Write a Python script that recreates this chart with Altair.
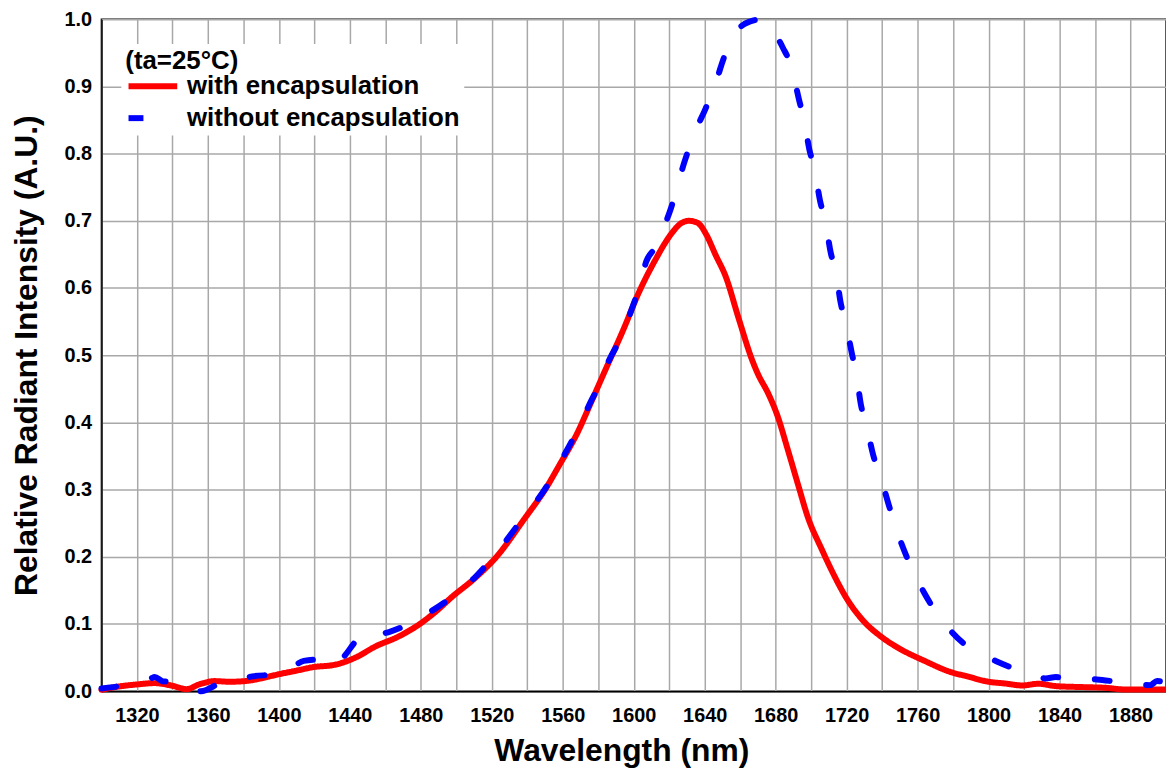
import altair as alt
import pandas as pd

# ---- data ----
wl_with = [1300, 1310, 1320, 1330, 1340, 1348, 1355, 1364, 1372, 1381, 1390, 1398,
           1409, 1420, 1431, 1444, 1454, 1468, 1480, 1490, 1497, 1510, 1523, 1538,
           1551, 1558, 1568, 1576, 1584, 1594, 1603, 1612, 1621, 1626, 1631, 1636,
           1641, 1646, 1652, 1659, 1667, 1670, 1676, 1681, 1687, 1693, 1698, 1706,
           1713, 1720, 1730, 1739, 1750, 1764, 1778, 1788, 1800, 1809, 1819, 1828,
           1838, 1854, 1866, 1877, 1900]
val_with = [0.002, 0.007, 0.010, 0.012, 0.008, 0.003, 0.010, 0.015, 0.014, 0.015, 0.019, 0.024,
            0.030, 0.036, 0.039, 0.051, 0.066, 0.082, 0.101, 0.122, 0.139, 0.167, 0.201, 0.255,
            0.304, 0.336, 0.383, 0.430, 0.478, 0.537, 0.594, 0.641, 0.680, 0.695, 0.700, 0.697,
            0.679, 0.650, 0.616, 0.556, 0.491, 0.472, 0.442, 0.410, 0.358, 0.304, 0.260, 0.211,
            0.172, 0.138, 0.103, 0.082, 0.063, 0.045, 0.029, 0.022, 0.014, 0.0115, 0.0085, 0.011,
            0.0075, 0.006, 0.005, 0.0025, 0.0025]

wl_without = [1300, 1311, 1328, 1330, 1335, 1340, 1348, 1356, 1368, 1376, 1385, 1398,
              1406, 1414, 1422, 1426, 1434, 1442, 1446, 1453, 1462, 1470, 1482, 1497,
              1510, 1523, 1538, 1551, 1558, 1568, 1576, 1581, 1585, 1594, 1598, 1604,
              1607, 1612, 1616, 1620.5, 1629, 1635, 1640.5, 1647, 1651, 1656, 1660, 1666,
              1672, 1678, 1684, 1689, 1693, 1696, 1699, 1702, 1705, 1708, 1711, 1714,
              1716.5, 1719.5, 1723, 1725.5, 1728, 1731, 1735, 1739, 1744, 1747.5, 1754, 1764,
              1776, 1786, 1795, 1804, 1816, 1825, 1832, 1838, 1845, 1853, 1861, 1873,
              1882, 1891, 1895, 1900]
val_without = [0.004, 0.008, 0.019, 0.021, 0.0145, 0.015, 0.007, 0.0, 0.013, 0.016, 0.022, 0.025,
               0.033, 0.045, 0.047, 0.039, 0.045, 0.070, 0.084, 0.084, 0.088, 0.096, 0.113, 0.139,
               0.168, 0.207, 0.259, 0.305, 0.338, 0.387, 0.432, 0.458, 0.486, 0.533, 0.562, 0.609,
               0.639, 0.660, 0.684, 0.715, 0.791, 0.835, 0.867, 0.912, 0.944, 0.970, 0.988, 0.997,
               1.000, 0.985, 0.958, 0.928, 0.882, 0.850, 0.806, 0.776, 0.730, 0.700, 0.653, 0.624,
               0.580, 0.549, 0.502, 0.472, 0.427, 0.398, 0.351, 0.320, 0.275, 0.245, 0.199, 0.145,
               0.098, 0.071, 0.056, 0.045, 0.032, 0.024, 0.019, 0.021, 0.018, 0.018, 0.0175, 0.0135,
               0.011, 0.009, 0.015, 0.0125]

series_names = ["with encapsulation", "without encapsulation"]
series_colors = ["#ff0000", "#0000ff"]
x_grid_values = list(range(1300, 1901, 20))
y_tick_values = [round(i * 0.1, 1) for i in range(11)]

df = pd.concat([
    pd.DataFrame({"wl": wl_with, "val": val_with, "series": series_names[0], "order": 0}),
    pd.DataFrame({"wl": wl_without, "val": val_without, "series": series_names[1], "order": 1}),
], ignore_index=True)

FONT = "Liberation Sans"

chart = alt.Chart(df).mark_line(
    strokeWidth=6, strokeCap="round", strokeJoin="round", interpolate="monotone"
).encode(
    x=alt.X("wl:Q", title="Wavelength (nm)",
            scale=alt.Scale(domain=[1300, 1900], nice=False, zero=False),
            axis=alt.Axis(values=x_grid_values, format="d",
                          labelExpr="datum.value % 40 == 0 ? datum.label : ''",
                          ticks=False, labelPadding=15, titlePadding=10,
                          titleX=523,
                          labelFlush=False, labelOverlap=False)),
    y=alt.Y("val:Q", title="Relative Radiant Intensity (A.U.)",
            scale=alt.Scale(domain=[0, 1], nice=False),
            axis=alt.Axis(values=y_tick_values, format=".1f", ticks=False,
                          labelPadding=10, titlePadding=21)),
    color=alt.Color("series:N",
                    scale=alt.Scale(domain=series_names, range=series_colors),
                    legend=alt.Legend(title="(ta=25°C)", orient="none",
                                      legendX=20, legendY=25,
                                      symbolType="M-1,0H3", symbolSize=600,
                                      symbolStrokeWidth=6, fillColor="white",
                                      padding=4, titlePadding=-3, rowPadding=3,
                                      labelOffset=31, labelLimit=500)),
    strokeDash=alt.StrokeDash("series:N",
                              scale=alt.Scale(domain=series_names, range=[[1, 0], [15, 37]]),
                              legend=alt.Legend(title="(ta=25°C)")),
    order=alt.Order("order:Q"),
).properties(
    width=1071, height=676,
    autosize=alt.AutoSizeParams(type="none"),
    padding={"left": 94, "top": 9, "right": 0, "bottom": 77},
).configure_view(
    stroke="black", strokeWidth=1.5
).configure_axis(
    labelFont=FONT, labelFontSize=20, labelFontWeight="bold", labelColor="black",
    titleFont=FONT, titleFontSize=32, titleFontWeight="bold", titleColor="black",
    gridColor="#a8a8a8", gridWidth=1.5, domainColor="black", domainWidth=1.5,
).configure_legend(
    titleFont=FONT, titleFontSize=26, titleFontWeight="bold", titleColor="black",
    labelFont=FONT, labelFontSize=26, labelFontWeight="bold", labelColor="black",
)

chart.save("out.html", embed_options={"renderer": "svg", "actions": False})
